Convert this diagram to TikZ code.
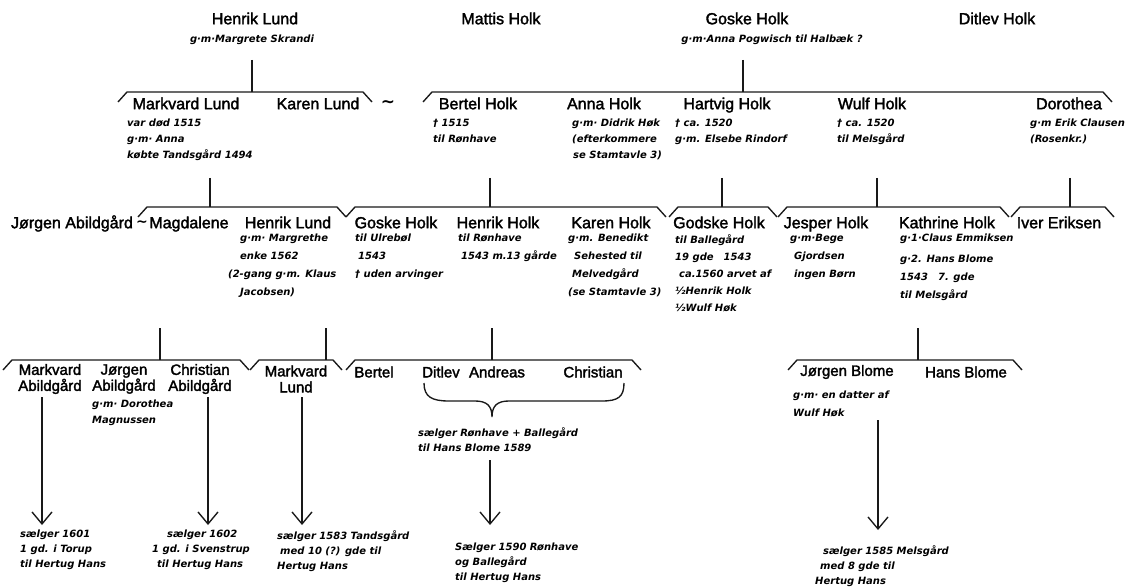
\documentclass[tikz,border=0pt]{standalone}
\usepackage{fontspec}
\setmainfont{Liberation Sans}
\newfontfamily\namefont{Liberation Sans}[FakeBold=2]
\newfontfamily\notefont{DejaVu Sans}
\usetikzlibrary{arrows.meta,calc}
\tikzset{
  ln/.style={line width=1.35pt, draw=black!90},
  nm/.style={font=\namefont\fontsize{16}{16}\selectfont, inner sep=0pt, text height=11.5pt, text depth=3pt},
  nmf/.style={font=\namefont\fontsize{15}{16}\selectfont, inner sep=0pt, align=center},
  tld/.style={font=\notefont\bfseries\fontsize{#1}{#1}\selectfont, inner sep=0pt},
  nt/.style={font=\notefont\bfseries\itshape\fontsize{10}{#1}\selectfont, inner sep=0pt, anchor=north west, align=left},
  nt/.default=16,
  arr/.style={ln, -{Straight Barb[length=12pt,width=20pt]}},
}
\newcommand{\brk}[4]{%
  \coordinate (#1L) at (#2,#4);
  \coordinate (#1R) at (#3,#4);
  \draw[ln] ($(#1L)+(-9,10)$) -- (#1L) -- (#1R) -- ($(#1R)+(9,10)$);}
\begin{document}
\begin{tikzpicture}[x=1pt,y=-1pt]
\fill[white] (0,0) rectangle (1127,588);
\useasboundingbox (0,0) rectangle (1127,588);

% ---------- generation 1
\node[nm] (a1) at (255,20) {Henrik Lund};
\node[nt, anchor=center] (a1n) at (252,40) {g·m·Margrete Skrandi};
\node[nm] (a2) at (501,20) {Mattis Holk};
\node[nm] (a3) at (747,20) {Goske Holk};
\node[nt, anchor=center] (a3n) at (772,40) {g·m·Anna Pogwisch til Halbæk ?};
\node[nm] (a4) at (997,20) {Ditlev Holk};

\brk{A}{127}{363}{92}
\brk{B}{432}{1103}{92}
\coordinate (vA) at (252,60); \draw[ln] (vA) -- (vA |- AL);
\coordinate (vB) at (743,60); \draw[ln] (vB) -- (vB |- BL);
\node[tld=17] (t1) at (388,104) {∼};

% ---------- generation 2
\node[nm] (b1) at (186,105) {Markvard Lund};
\node[nm] (b2) at (318,105) {Karen Lund};
\node[nm] (b3) at (478,105) {Bertel Holk};
\node[nm] (b4) at (604,105) {Anna Holk};
\node[nm] (b5) at (727,105) {Hartvig Holk};
\node[nm] (b6) at (872,105) {Wulf Holk};
\node[nm] (b7) at (1069,105) {Dorothea};

\node[nt] (b1n) at (127,119) {var død 1515\\g·m· Anna\\købte Tandsgård 1494};
\node[nt] (b3n) at (433,119) {† 1515\\til Rønhave};
\node[nt] (b4n) at (572,119) {g·m· Didrik Høk\\(efterkommere\\\hspace*{1pt}se Stamtavle 3)};
\node[nt] (b5n) at (675,119) {† ca. 1520\\g·m. Elsebe Rindorf};
\node[nt] (b6n) at (837,119) {† ca. 1520\\til Melsgård};
\node[nt] (b7n) at (1030,119) {g·m Erik Clausen\\(Rosenkr.)};

\brk{C}{147}{337}{207}
\brk{D}{355}{657}{207}
\brk{E}{678}{768}{207}
\brk{F}{787}{1000}{207}
\brk{G}{1020}{1105}{207}
\foreach \x/\b in {210/C,490/D,722/E,877/F,1070/G}{
  \coordinate (v\b) at (\x,178); \draw[ln] (v\b) -- (v\b |- \b L);}

% ---------- generation 3
\node[nm] (c0) at (72,224) {Jørgen Abildgård};
\node[tld=14] (t2) at (142,224) {∼};
\node[nm] (c1) at (189,224) {Magdalene};
\node[nm] (c2) at (288,224) {Henrik Lund};
\node[nm] (c3) at (396,224) {Goske Holk};
\node[nm] (c4) at (498,224) {Henrik Holk};
\node[nm] (c5) at (611,224) {Karen Holk};
\node[nm] (c6) at (719,224) {Godske Holk};
\node[nm] (c7) at (826,224) {Jesper Holk};
\node[nm] (c8) at (947,224) {Kathrine Holk};
\node[nm] (c9) at (1059,224) {Iver Eriksen};

\node[nt=18] (c2n) at (240,234) {g·m· Margrethe\\enke 1562\\\hspace*{-12pt}(2-gang g·m. Klaus\\Jacobsen)};
\node[nt=18] (c3n) at (355,234) {til Ulrebøl\\\hspace*{3pt}1543\\† uden arvinger};
\node[nt=18] (c4n) at (458,234) {til Rønhave\\\hspace*{3pt}1543 m.13 gårde};
\node[nt=18] (c5n) at (568,234) {g·m. Benedikt\\\hspace*{6pt}Sehested til\\\hspace*{4pt}Melvedgård\\(se Stamtavle 3)};
\node[nt=17] (c6n) at (675,234) {til Ballegård\\19 gde\quad 1543\\\hspace*{4pt}ca.1560 arvet af\\½Henrik Holk\\½Wulf Høk};
\node[nt=18] (c7n) at (790,234) {g·m·Bege\\\hspace*{4pt}Gjordsen\\\hspace*{4pt}ingen Børn};
\node[nt=18] (c8n) at (900,234) {g·1·Claus Emmiksen\\[3pt]g·2. Hans Blome\\1543\quad 7. gde\\til Melsgård};

\brk{H}{12}{240}{360}
\brk{I}{259}{333}{360}
\brk{J}{355}{632}{360}
\brk{K}{797}{1013}{360}
\foreach \x/\b in {160/H,326/I,492/J,918/K}{
  \coordinate (w\b) at (\x,328); \draw[ln] (w\b) -- (w\b |- \b L);}

% ---------- generation 4
\node[nmf] (d1) at (50,379) {Markvard\\Abildgård};
\node[nmf] (d2) at (124,379) {Jørgen\\Abildgård};
\node[nmf] (d3) at (200,379) {Christian\\Abildgård};
\node[nmf] (d4) at (296,379) {Markvard\\Lund};
\node[nmf] (d5) at (374,372) {Bertel};
\node[nmf] (d6) at (441,372) {Ditlev};
\node[nmf] (d7) at (497,372) {Andreas};
\node[nmf] (d8) at (593,372) {Christian};
\node[nmf] (d9) at (847,372) {Jørgen Blome};
\node[nmf] (d10) at (966,372) {Hans Blome};

\node[nt] (d2n) at (92,400) {g·m· Dorothea\\Magnussen};
\node[nt=18] (d9n) at (793,391) {g·m· en datter af\\Wulf Høk};

% brace under Ditlev .. Christian
\coordinate (brL) at (424,383);
\coordinate (brT) at (492,417);
\coordinate (brR) at (624,383);
\draw[ln] (brL) .. controls (424,397) and (432,401) .. (449,401) -- (475,401)
  .. controls (487,401) and (492,406) .. (brT)
  .. controls (492,406) and (497,401) .. (509,401) -- (602,401)
  .. controls (618,401) and (624,397) .. (brR);
\node[nt=15] (brn) at (418,427) {sælger Rønhave + Ballegård\\til Hans Blome 1589};

% arrows
\coordinate (e1) at (42,397);  \coordinate (f1) at (42,525);
\coordinate (e2) at (208,397); \coordinate (f2) at (208,525);
\coordinate (e3) at (302,397); \coordinate (f3) at (302,525);
\coordinate (e4) at (490,460); \coordinate (f4) at (490,525);
\coordinate (e5) at (878,420); \coordinate (f5) at (878,530);
\foreach \i in {1,...,5}{\draw[arr] (e\i) -- (f\i);}

\node[nt=15] (h1) at (20,530) {sælger 1601\\1 gd. i Torup\\til Hertug Hans};
\node[nt=15] (h2) at (152,530) {\hspace*{15pt}sælger 1602\\1 gd. i Svenstrup\\\hspace*{5pt}til Hertug Hans};
\node[nt=15] (h3) at (277,530) {sælger 1583 Tandsgård\\\hspace*{3pt}med 10 (?) gde til\\Hertug Hans};
\node[nt=15] (h4) at (455,543) {Sælger 1590 Rønhave\\og Ballegård\\til Hertug Hans};
\node[nt=15] (h5) at (815,545) {\hspace*{8pt}sælger 1585 Melsgård\\\hspace*{5pt}med 8 gde til\\Hertug Hans};
\end{tikzpicture}
\end{document}
